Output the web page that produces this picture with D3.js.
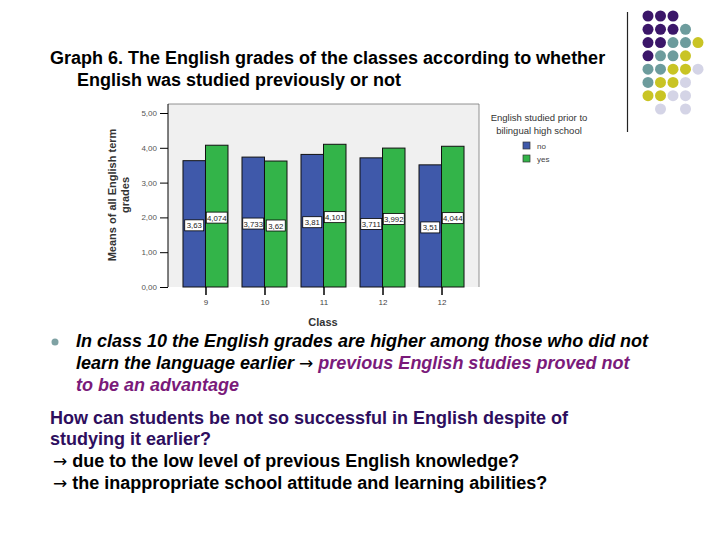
<!DOCTYPE html>
<html><head><meta charset="utf-8">
<script src="https://cdn.jsdelivr.net/npm/d3@7"></script>
<style>body{margin:0;background:#fff}svg{display:block}.arr{font-family:'DejaVu Sans',sans-serif;font-style:normal;font-weight:normal}</style>
</head><body>
<script>
const classes = ["9","10","11","12","12"];
const seriesNames = ["no","yes"];
const noValues = [3.63, 3.733, 3.81, 3.711, 3.51];
const yesValues = [4.074, 3.62, 4.101, 3.992, 4.044];
const yTicks = [0, 1, 2, 3, 4, 5];
const colors = ["#3f59aa", "#33b449"];

// decorative dot pattern (row strings; P purple, T teal, Y yellow, L lavender, . empty)
const dotRows = ["PPP..","PPPT.","PPTTY","PTTY.","TTYYL","TYYL.","YYLL.",".L.L."];
const dotColors = {P:"#3b1669", T:"#6d9c9d", Y:"#c9c424", L:"#d4d4e6"};

(function(){
const W = 720, H = 540;
const svg = d3.select("body").append("svg").attr("width", W).attr("height", H)
  .style("font-family", "'Liberation Sans', Arial, sans-serif");

// decoration
svg.append("line").attr("x1",627.5).attr("x2",627.5).attr("y1",12).attr("y2",132).attr("stroke","#222").attr("stroke-width",1.2);
const dx = d3.scaleLinear().domain([0,4]).range([648,698]);
const dy = d3.scaleLinear().domain([0,7]).range([16,109]);
dotRows.forEach((row, r) => {
  row.split("").forEach((c, k) => {
    if (c === ".") return;
    svg.append("circle").attr("cx", dx(k)).attr("cy", dy(r)).attr("r", 5.5).attr("fill", dotColors[c]);
  });
});

// title
const title = svg.append("text").attr("font-weight","bold").attr("font-size",18).attr("fill","#000");
title.append("tspan").attr("x",50).attr("y",64).text("Graph 6. The English grades of the classes according to whether");
title.append("tspan").attr("x",77).attr("y",86).text("English was studied previously or not");

// chart
const pL = 168, pR = 479, pT = 104, pB = 287;
const x0 = d3.scaleBand().domain(d3.range(classes.length)).range([pL, pR]).paddingInner(14/59).paddingOuter(0.254);
const x1 = d3.scaleBand().domain(seriesNames).range([0, x0.bandwidth()]);
const y = d3.scaleLinear().domain([0, 5]).range([pB, 113]);

svg.append("rect").attr("x",pL).attr("y",pT).attr("width",pR-pL).attr("height",pB-pT)
  .attr("fill","#f0f0f0");
svg.append("path").attr("d",`M${pL},${pT}H${pR}V${pB}`).attr("fill","none").attr("stroke","#777").attr("stroke-width",0.8);

const yAxis = svg.append("g").attr("transform",`translate(${pL},0)`)
  .call(d3.axisLeft(y).tickValues(yTicks).tickSize(8).tickFormat(d => d3.format(".2f")(d).replace(".", ",")));
yAxis.select(".domain").attr("stroke","#000").attr("d", `M0,${pT}V${pB}`);
yAxis.selectAll(".tick line").attr("stroke","#000");
yAxis.selectAll(".tick text").attr("font-size",8).attr("fill","#555").attr("font-family","'Liberation Sans', Arial, sans-serif").attr("x",-11);

const data = classes.map((c, i) => ({i, vals: [noValues[i], yesValues[i]]}));
const groups = svg.append("g").selectAll("g").data(data).join("g")
  .attr("transform", d => `translate(${x0(d.i)},0)`);
groups.selectAll("rect").data(d => d.vals.map((v, k) => ({k, v}))).join("rect")
  .attr("x", d => x1(seriesNames[d.k])).attr("width", x1.bandwidth())
  .attr("y", d => y(d.v)).attr("height", d => y(0) - y(d.v))
  .attr("fill", d => colors[d.k]).attr("stroke","#111").attr("stroke-width",1);

// value labels
groups.selectAll("g.lab").data(d => d.vals.map((v, k) => ({k, v}))).join("g").attr("class","lab")
  .each(function(d) {
    const g = d3.select(this);
    const cx = x1(seriesNames[d.k]) + x1.bandwidth()/2;
    const cy = y(d.v/2) + 1.5;
    const txt = String(d.v).replace(".", ",");
    const w = txt.length > 4 ? 21 : 19;
    g.append("rect").attr("x", cx - w/2).attr("y", cy - 5.5).attr("width", w).attr("height", 11)
      .attr("fill","#fff").attr("stroke","#000").attr("stroke-width",0.8);
    g.append("text").attr("x", cx).attr("y", cy + 3).attr("text-anchor","middle")
      .attr("font-size",7.8).attr("fill","#222").text(txt);
  });

// x axis ticks and labels
const xAxis = svg.append("g").attr("transform",`translate(0,${pB})`)
  .call(d3.axisBottom(d3.scaleOrdinal().domain(d3.range(classes.length)).range(d3.range(classes.length).map(i => x0(i) + x0.bandwidth()/2))).tickSize(8).tickFormat(i => classes[i]));
xAxis.select(".domain").remove();
xAxis.selectAll(".tick line").attr("stroke","#000").attr("stroke-width",1.5);
xAxis.selectAll(".tick text").attr("font-size",8).attr("fill","#444").attr("font-family","'Liberation Sans', Arial, sans-serif").attr("y",12);

svg.append("text").attr("x",323).attr("y",326).attr("text-anchor","middle").attr("font-weight","bold").attr("font-size",11).attr("fill","#333").text("Class");

const yl = svg.append("text").attr("transform","translate(116,195) rotate(-90)").attr("text-anchor","middle")
  .attr("font-weight","bold").attr("font-size",11).attr("fill","#333");
yl.append("tspan").attr("x",0).attr("y",0).text("Means of all English term");
yl.append("tspan").attr("x",0).attr("y",13).text("grades");

// legend
const lg = svg.append("g");
lg.append("text").attr("x",539).attr("y",121).attr("text-anchor","middle").attr("font-size",9.5).attr("fill","#333").text("English studied prior to");
lg.append("text").attr("x",539).attr("y",134).attr("text-anchor","middle").attr("font-size",9.5).attr("fill","#333").text("bilingual high school");
seriesNames.forEach((s, k) => {
  lg.append("rect").attr("x",523).attr("y",142 + k*13).attr("width",7).attr("height",7).attr("fill",colors[k]).attr("stroke","#333").attr("stroke-width",0.7);
  lg.append("text").attr("x",537).attr("y",149 + k*13).attr("font-size",8).attr("fill","#444").text(s);
});

// bullet text
svg.append("circle").attr("cx",55).attr("cy",342).attr("r",3.5).attr("fill","#7fa2a4");
const b = svg.append("g").attr("font-weight","bold").attr("font-style","italic").attr("font-size",18);
b.append("text").attr("x",76).attr("y",347).attr("fill","#000").text("In class 10 the English grades are higher among those who did not");
const l2 = b.append("text").attr("x",76).attr("y",369);
l2.append("tspan").attr("fill","#000").text("learn the language earlier ");
l2.append("tspan").attr("class","arr").attr("font-size",17).attr("fill","#000").text("\u2192");
l2.append("tspan").attr("fill","#7a1a7a").text(" previous English studies proved not");
b.append("text").attr("x",76).attr("y",391).attr("fill","#7a1a7a").text("to be an advantage");

const q = svg.append("g").attr("font-weight","bold").attr("font-size",18);
q.append("text").attr("x",50).attr("y",424).attr("fill","#2e0e5e").text("How can students be not so successful in English despite of");
q.append("text").attr("x",50).attr("y",445).attr("fill","#2e0e5e").text("studying it earlier?");
const q3 = q.append("text").attr("x",53).attr("y",467).attr("fill","#000");
q3.append("tspan").attr("class","arr").attr("font-size",17).text("\u2192");
q3.append("tspan").text(" due to the low level of previous English knowledge?");
const q4 = q.append("text").attr("x",53).attr("y",489).attr("fill","#000");
q4.append("tspan").attr("class","arr").attr("font-size",17).text("\u2192");
q4.append("tspan").text(" the inappropriate school attitude and learning abilities?");
})();
</script>
</body></html>
